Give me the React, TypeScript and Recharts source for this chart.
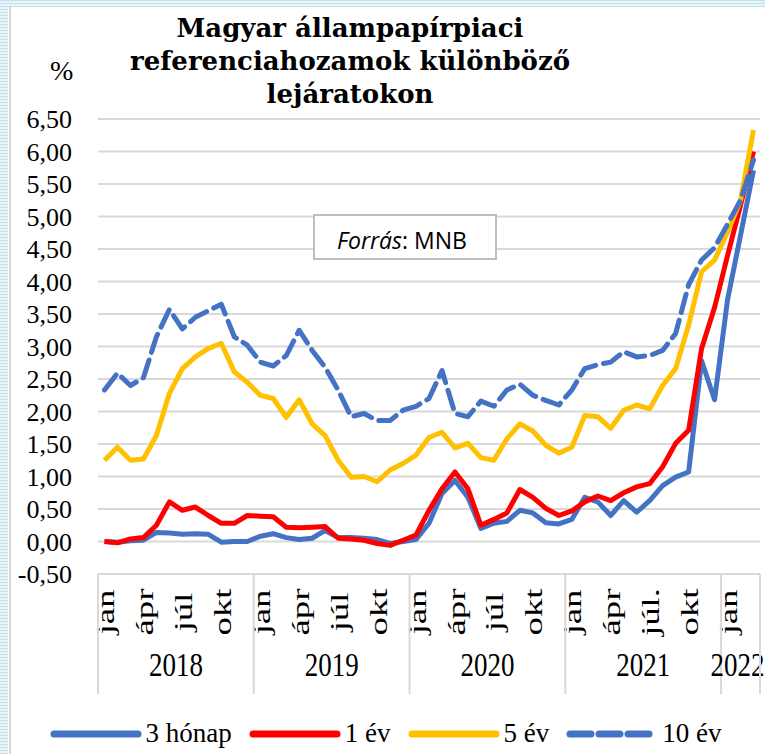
import React from 'react';
import { CartesianGrid, Legend, Line, LineChart, XAxis, YAxis } from 'recharts';

// havi adatok, 2018 jan – 2022 márc
const years = ['2018', '2019', '2020', '2021', '2022'];
const monthTicks = ['jan', 'ápr', 'júl', 'okt', 'jan', 'ápr', 'júl', 'okt', 'jan', 'ápr', 'júl', 'okt', 'jan', 'ápr', 'júl.', 'okt', 'jan'];
const seriesNames = ['3 hónap', '1 év', '5 év', '10 év'];

const m3 = [
  0.0, -0.01, 0.01, 0.02, 0.14, 0.13, 0.11, 0.12, 0.11, -0.01, 0.0, 0.0,
  0.08, 0.12, 0.06, 0.03, 0.05, 0.17, 0.06, 0.06, 0.05, 0.03, -0.03, 0.0,
  0.03, 0.28, 0.74, 0.94, 0.68, 0.2, 0.28, 0.31, 0.48, 0.44, 0.29, 0.27,
  0.34, 0.68, 0.61, 0.4, 0.63, 0.45, 0.63, 0.86, 0.99, 1.07, 2.78, 2.18,
  3.72, 4.71, 5.71,
];
const y1 = [
  0.0, -0.02, 0.04, 0.06, 0.25, 0.61, 0.48, 0.53, 0.4, 0.28, 0.28, 0.4,
  0.39, 0.38, 0.22, 0.21, 0.22, 0.23, 0.05, 0.04, 0.02, -0.03, -0.06, 0.02,
  0.1, 0.48, 0.81, 1.07, 0.81, 0.25, 0.34, 0.44, 0.8, 0.68, 0.51, 0.4,
  0.47, 0.61, 0.7, 0.63, 0.75, 0.84, 0.89, 1.15, 1.51, 1.71, 2.97, 3.6,
  4.4, 5.17, 6.0,
];
const y5 = [
  1.25, 1.45, 1.25, 1.27, 1.63, 2.28, 2.66, 2.84, 2.97, 3.05, 2.61, 2.45,
  2.25, 2.2, 1.91, 2.18, 1.81, 1.63, 1.25, 0.99, 1.0, 0.92, 1.1, 1.2,
  1.33, 1.6, 1.68, 1.44, 1.51, 1.29, 1.25, 1.58, 1.81, 1.7, 1.48, 1.36,
  1.45, 1.94, 1.92, 1.74, 2.02, 2.1, 2.04, 2.4, 2.66, 3.33, 4.15, 4.33,
  4.76, 5.25, 6.33,
];
const y10 = [
  2.33, 2.59, 2.4, 2.52, 3.15, 3.57, 3.27, 3.45, 3.55, 3.65, 3.15, 3.02,
  2.76, 2.7, 2.86, 3.25, 2.94, 2.68, 2.33, 1.92, 1.97, 1.86, 1.86, 2.02,
  2.08, 2.2, 2.63, 1.97, 1.92, 2.16, 2.08, 2.33, 2.42, 2.25, 2.17, 2.1,
  2.33, 2.66, 2.72, 2.76, 2.92, 2.84, 2.86, 2.94, 3.2, 3.95, 4.33, 4.52,
  4.88, 5.25, 5.87,
];
const yTicks = [-0.5, 0, 0.5, 1, 1.5, 2, 2.5, 3, 3.5, 4, 4.5, 5, 5.5, 6, 6.5];

const N = m3.length;
const data = m3.map((v, i) => ({ i, m3: v, y1: y1[i], y5: y5[i], y10: y10[i] }));
const idx = data.map((d) => d.i);

const W = 765;
const H = 754;
const Y_AXIS_W = 98;
const RIGHT = 5;
const BAND = (W - Y_AXIS_W - RIGHT) / N;
const SERIF = "'Liberation Serif', 'Times New Roman', serif";

const BLUE = '#4472C4';
const RED = '#FF0000';
const YELLOW = '#FFC000';
const GRID = '#D9D9D9';

const MonthTick = (props: any) => {
  const { x, y, payload } = props;
  const i = payload.value as number;
  const out: React.ReactNode[] = [];
  if (i % 3 === 0) {
    const ly = y + 38;
    out.push(
      <text key="m" x={0} y={0} transform={`translate(${x + 1} ${ly}) rotate(-90) scale(1.42 1)`} textAnchor="middle"
        dominantBaseline="central" fontFamily={SERIF} fontSize={26} fill="#000">
        {monthTicks[i / 3]}
      </text>,
    );
  }
  if (i % 12 === 0) {
    const span = Math.min(12, N - i);
    const cx = x + ((span - 1) / 2) * BAND - (span < 12 ? 3 : 0);
    out.push(<line key="s" x1={x - BAND / 2} x2={x - BAND / 2} y1={y} y2={y + 120} stroke={GRID} strokeWidth={2} />);
    out.push(
      <text key="y" x={0} y={0} transform={`translate(${cx} ${y + 91}) scale(1 1.25)`} textAnchor="middle"
        dominantBaseline="central" fontFamily={SERIF} fontSize={27} fill="#000">
        {years[i / 12]}
      </text>,
    );
  }
  if (i === N - 1) {
    out.push(<line key="e" x1={x + BAND / 2} x2={x + BAND / 2} y1={y} y2={y + 120} stroke={GRID} strokeWidth={2} />);
  }
  return <g>{out}</g>;
};

const LegendContent = (props: any) => {
  const items = [...(props.payload || [])].sort(
    (a: any, b: any) => seriesNames.indexOf(a.value) - seriesNames.indexOf(b.value),
  );
  return (
    <div style={{ display: 'flex', justifyContent: 'center', alignItems: 'center', fontFamily: SERIF, fontSize: 27, paddingLeft: 6 }}>
      {items.map((p: any, k: number) => (
        <div key={p.value} style={{ display: 'flex', alignItems: 'center', marginRight: k < items.length - 1 ? 17 : 0 }}>
          <svg width={92} height={12}>
            <line x1={4} x2={88} y1={6} y2={6} stroke={p.color} strokeWidth={7} strokeLinecap="round"
              strokeDasharray={p.value === '10 év' ? '21 8' : undefined} />
          </svg>
          <span style={{ marginLeft: 4 }}>{p.value}</span>
        </div>
      ))}
    </div>
  );
};

const stripes = 'repeating-linear-gradient(0deg, #bfe1e9 0px, #bfe1e9 1px, #e8f4f7 1px, #e8f4f7 3px)';

export default function App() {
  return (
    <div style={{ position: 'absolute', left: 0, top: 0, width: W, height: H, background: '#fff', overflow: 'hidden' }}>
      <div style={{ position: 'absolute', left: 0, top: 0, width: 8, height: H, background: stripes }} />
      <div style={{ position: 'absolute', left: 0, top: 0, width: W, height: 7, background: stripes }} />
      <div style={{ position: 'absolute', left: 9, top: 7, width: 2, height: H, background: '#d6d6d6' }} />
      <LineChart width={W} height={H} data={data} margin={{ top: 119, right: RIGHT, bottom: 60, left: 0 }}>
        <CartesianGrid vertical={false} stroke={GRID} strokeWidth={2} />
        <XAxis dataKey="i" type="number" domain={[-0.5, N - 0.5]} ticks={idx} interval={0}
          height={120} tick={<MonthTick />} tickLine={false} tickSize={0} tickMargin={0}
          axisLine={{ stroke: GRID, strokeWidth: 2 }} allowDataOverflow />
        <YAxis domain={[-0.5, 6.5]} ticks={yTicks} width={Y_AXIS_W} axisLine={false} tickLine={false}
          tickSize={0} tickMargin={26} interval={0}
          tick={{ fontFamily: SERIF, fontSize: 26, fill: '#000' }}
          tickFormatter={(v: number) => v.toFixed(2).replace('.', ',')} />
        <Line dataKey="m3" name="3 hónap" stroke={BLUE} strokeWidth={5} dot={false} isAnimationActive={false} strokeLinejoin="round" />
        <Line dataKey="y1" name="1 év" stroke={RED} strokeWidth={5} dot={false} isAnimationActive={false} strokeLinejoin="round" />
        <Line dataKey="y5" name="5 év" stroke={YELLOW} strokeWidth={5} dot={false} isAnimationActive={false} strokeLinejoin="round" />
        <Line dataKey="y10" name="10 év" stroke={BLUE} strokeWidth={5} dot={false} isAnimationActive={false}
          strokeDasharray="19 8" strokeLinecap="round" strokeLinejoin="round" />
        <Legend verticalAlign="middle" align="center" layout="horizontal" content={<LegendContent />}
          wrapperStyle={{ top: 718, left: 0, width: W, height: 34 }} />
      </LineChart>
      <div style={{ position: 'absolute', left: 100, top: 12, width: 500, textAlign: 'center', fontFamily: "'DejaVu Serif', serif",
        fontWeight: 'bold', fontSize: 26, lineHeight: '33px', color: '#000' }}>
        Magyar állampapírpiaci<br />referenciahozamok különböző<br />lejáratokon
      </div>
      <div style={{ position: 'absolute', left: 50, top: 55, fontFamily: SERIF, fontSize: 28, color: '#000' }}>%</div>
      <div style={{ position: 'absolute', left: 313, top: 214, width: 180, height: 42, border: '2px solid #bfbfbf', background: '#fff',
        fontFamily: "'Open Sans', sans-serif", fontSize: 23, color: '#000', boxSizing: 'content-box' }}>
        <div style={{ position: 'absolute', left: 22, top: 8 }}><i>Forrás</i>: MNB</div>
      </div>
    </div>
  );
}
